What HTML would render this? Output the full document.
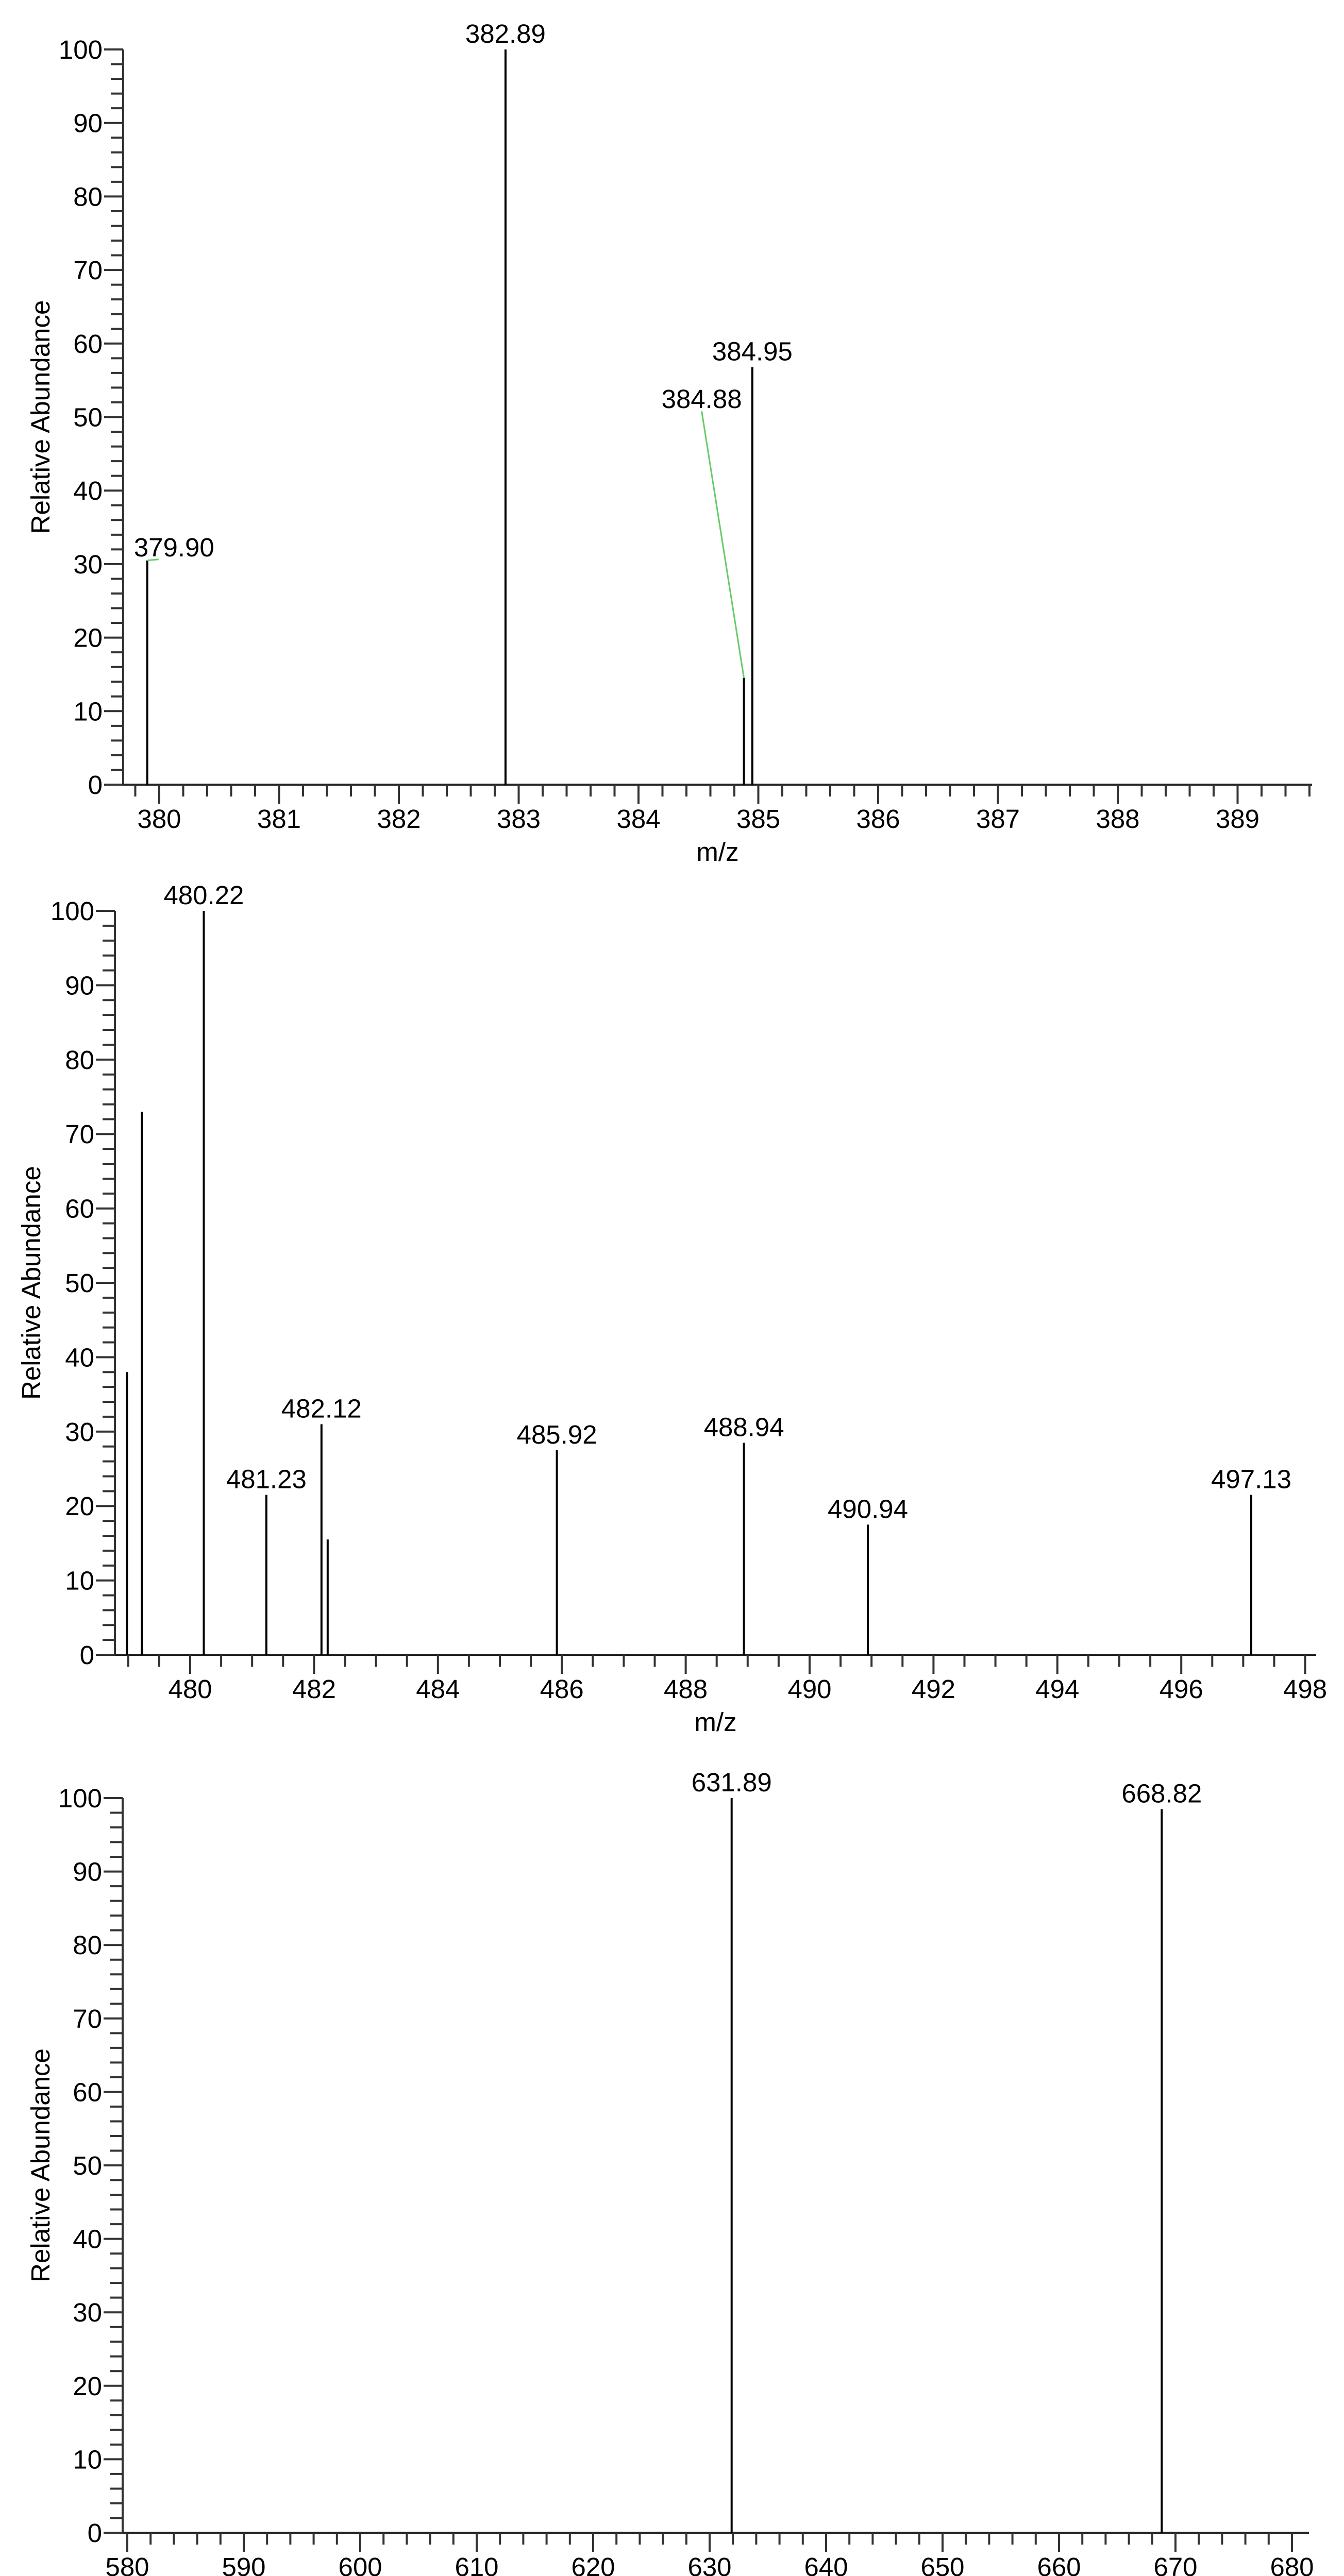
<!DOCTYPE html>
<html><head><meta charset="utf-8"><title>Mass spectra</title>
<style>
html,body{margin:0;padding:0;background:#fff;width:2608px;height:5111px;overflow:hidden;}
svg{display:block;font-family:"Liberation Sans",Arial,sans-serif;}
</style></head>
<body>
<svg id="fig" xmlns="http://www.w3.org/2000/svg" width="2608" height="5111" viewBox="0 0 2608 5111">
<rect x="0" y="0" width="2608" height="5111" fill="#fff"/>
</svg>
<script>
// ---- Chart 1 data ----
const c1Mz = [379.90, 382.89, 384.88, 384.95];
const c1Ab = [30.5, 100, 14.5, 56.8];
const c1Labels = ["379.90", "382.89", "384.88", "384.95"];
const c1XTicks = [380, 381, 382, 383, 384, 385, 386, 387, 388, 389];
// ---- Chart 2 data ----
const c2Mz = [478.98, 479.22, 480.22, 481.23, 482.12, 482.22, 485.92, 488.94, 490.94, 497.13];
const c2Ab = [38, 73, 100, 21.5, 31, 15.5, 27.5, 28.5, 17.5, 21.5];
const c2Labels = ["", "", "480.22", "481.23", "482.12", "", "485.92", "488.94", "490.94", "497.13"];
const c2XTicks = [480, 482, 484, 486, 488, 490, 492, 494, 496, 498];
// ---- Chart 3 data ----
const c3Mz = [631.89, 668.82];
const c3Ab = [100, 98.5];
const c3Labels = ["631.89", "668.82"];
const c3XTicks = [580, 590, 600, 610, 620, 630, 640, 650, 660, 670, 680];
const yTicks = [0, 10, 20, 30, 40, 50, 60, 70, 80, 90, 100];

const NS = "http://www.w3.org/2000/svg";
const svg = document.getElementById('fig');
function mk(tag, attrs, parent) {
  const e = document.createElementNS(NS, tag);
  for (const k in attrs) e.setAttribute(k, attrs[k]);
  (parent || svg).appendChild(e);
  return e;
}

function chart(cfg) {
  const g = mk('g', {});
  
  
  const xs = v => cfg.x0 + (v - cfg.ref) * cfg.ppu;
  const ys = v => cfg.base - v * (cfg.base - cfg.top) / 100;
  const yAxis = mk('line', {x1: cfg.ax, y1: cfg.top, x2: cfg.ax, y2: cfg.base, stroke: '#333', 'stroke-width': 4}, g);
  
  
  const xAxis = mk('line', {x1: cfg.ax, y1: cfg.base, x2: cfg.xEnd, y2: cfg.base, stroke: '#222', 'stroke-width': 4}, g);
  
  
  for (let v = 0; v <= 100; v += 2) {
    const major = v % 10 === 0;
    const t = mk('line', {x1: cfg.ax - (major ? 37 : 24), y1: ys(v), x2: cfg.ax, y2: ys(v), stroke: '#333', 'stroke-width': 4}, g);
    
    
  }
  yTicks.forEach(v => {
    const t = mk('text', {x: cfg.ax - 40, y: ys(v) + 18, 'font-size': 51, 'text-anchor': 'end', fill: '#000'}, g);
    t.textContent = String(v);
    
    
  });
  const lo = cfg.ax, hi = cfg.xEnd;
  const startV = Math.ceil((cfg.ref + (lo - cfg.x0) / cfg.ppu) / cfg.minor - 1e-6) * cfg.minor;
  for (let v = startV; xs(v) <= hi + 0.5; v = Math.round((v + cfg.minor) * 1000) / 1000) {
    const r = v / cfg.major;
    const major = Math.abs(r - Math.round(r)) < 1e-6;
    const t = mk('line', {x1: xs(v), y1: cfg.base, x2: xs(v), y2: cfg.base + (major ? 37 : 23), stroke: '#333', 'stroke-width': 4}, g);
    
    
  }
  cfg.xticks.forEach(v => {
    const t = mk('text', {x: xs(v), y: cfg.base + 84, 'font-size': 51, 'text-anchor': 'middle', fill: '#000'}, g);
    t.textContent = String(v);
    
    
  });
  const xt = mk('text', {x: (cfg.ax + cfg.xEnd) / 2, y: cfg.base + 148, 'font-size': 51, 'text-anchor': 'middle', fill: '#000'}, g);
  xt.textContent = 'm/z';
  
  
  const cy = (cfg.top + cfg.base) / 2;
  const yt = mk('text', {x: cfg.titleX, y: cy, 'font-size': 51, 'text-anchor': 'middle', fill: '#000', transform: 'rotate(-90 ' + cfg.titleX + ' ' + cy + ')'}, g);
  yt.textContent = 'Relative Abundance';
  
  
  cfg.mz.forEach((m, i) => {
    const p = mk('line', {x1: xs(m), y1: ys(cfg.ab[i]), x2: xs(m), y2: cfg.base, stroke: '#000', 'stroke-width': 4}, g);
    
    
    const lab = cfg.labels[i];
    if (!lab) return;
    const off = cfg.offsets && cfg.offsets[i];
    let lx = xs(m), ly = ys(cfg.ab[i]) - 13;
    if (off) { lx += off[0]; ly = ys(cfg.ab[i]) - 13 + off[1]; }
    const t = mk('text', {x: lx, y: ly, 'font-size': 51, 'text-anchor': 'middle', fill: '#000'}, g);
    t.textContent = lab;
    
    
    if (off) {
      const ll = mk('line', {x1: xs(m), y1: ys(cfg.ab[i]), x2: lx + off[2], y2: ly + 6, stroke: '#6c6', 'stroke-width': 3}, g);
      
      
    }
  });
}

chart({name: 'spectrum-chart-1', ax: 239, xEnd: 2546, top: 96, base: 1523, x0: 309, ref: 380, ppu: 232.5,
  minor: 0.2, major: 1, xticks: c1XTicks, titleX: 96, mz: c1Mz, ab: c1Ab, labels: c1Labels,
  offsets: [[52, 5, -30], null, [-82, -511, 0], null]});
chart({name: 'spectrum-chart-2', ax: 223, xEnd: 2554, top: 1768, base: 3212, x0: 369, ref: 480, ppu: 120.2,
  minor: 0.5, major: 2, xticks: c2XTicks, titleX: 78, mz: c2Mz, ab: c2Ab, labels: c2Labels});
chart({name: 'spectrum-chart-3', ax: 238, xEnd: 2540, top: 3490, base: 4916, x0: 1377, ref: 630, ppu: 22.6,
  minor: 2, major: 10, xticks: c3XTicks, titleX: 96, mz: c3Mz, ab: c3Ab, labels: c3Labels});
</script>
</body></html>
